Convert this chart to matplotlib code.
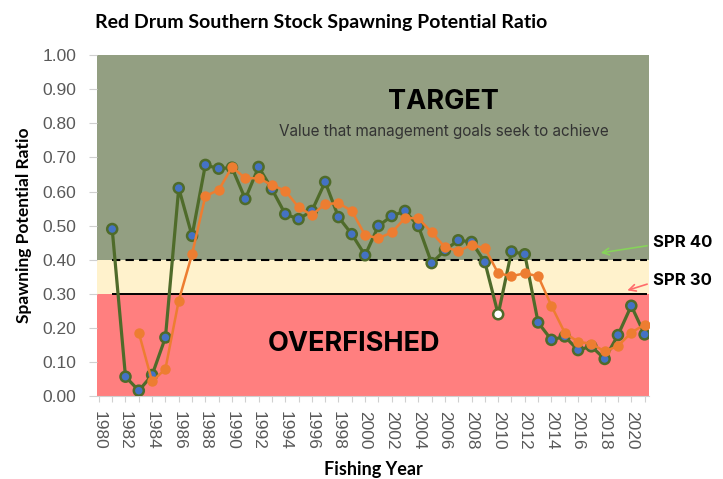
"""
Red Drum southern stock spawning potential ratio (SPR) by fishing year,
with target / threshold / overfished bands.
"""

import matplotlib

matplotlib.use("Agg")
import matplotlib.pyplot as plt

# Estimated SPR series
green_years = list(range(1981, 2022))
green_spr = [
    0.49, 0.057, 0.016, 0.062, 0.172, 0.61, 0.47, 0.678, 0.667, 0.67,
    0.578, 0.672, 0.607, 0.534, 0.519, 0.543, 0.628, 0.525, 0.475, 0.413,
    0.499, 0.528, 0.543, 0.499, 0.39, 0.428, 0.457, 0.452, 0.393, 0.24,
    0.424, 0.416, 0.216, 0.165, 0.175, 0.135, 0.146, 0.109, 0.179, 0.265,
    0.181,
]
hollow_year = 2010

orange_years = list(range(1983, 2022))
orange_spr = [
    0.186, 0.043, 0.08, 0.28, 0.416, 0.587, 0.604, 0.672, 0.639, 0.639,
    0.619, 0.602, 0.554, 0.531, 0.563, 0.566, 0.543, 0.472, 0.463, 0.48,
    0.522, 0.522, 0.48, 0.437, 0.425, 0.443, 0.434, 0.36, 0.352, 0.36,
    0.352, 0.265, 0.186, 0.159, 0.154, 0.131, 0.147, 0.186, 0.21,
]

spr_target = 0.40
spr_threshold = 0.30
ref_line_years = (1981, 2021.2)

y_ticks = [i / 10 for i in range(11)]
x_tick_labels = list(range(1980, 2021, 2))

GREEN_BAND = "#939f82"
CREAM_BAND = "#fff2cc"
RED_BAND = "#ff7f7f"
LINE_GREEN = "#4f6b2a"
MARKER_BLUE = "#4472c4"
ORANGE = "#ed7d31"
GREY = "#595959"

fig = plt.figure(figsize=(7.23, 4.79), dpi=100)
ax = fig.add_axes([0.134, 0.173, 0.764, 0.712])

# Background bands
ax.axhspan(spr_target, 1.0, color=GREEN_BAND, lw=0, zorder=0)
ax.axhspan(spr_threshold, spr_target, color=CREAM_BAND, lw=0, zorder=0)
ax.axhspan(0.0, spr_threshold, color=RED_BAND, lw=0, zorder=0)

# Reference lines
ax.hlines(spr_target, *ref_line_years, colors="black", linestyles=(0, (4, 2.5)), lw=1.5, zorder=2)
ax.hlines(spr_threshold, *ref_line_years, colors="black", lw=1.4, zorder=2)

# Green series (blue markers, one hollow point)
ax.plot(green_years, green_spr, "-", color=LINE_GREEN, lw=2.3, zorder=3)
faces = ["white" if y == hollow_year else MARKER_BLUE for y in green_years]
ax.scatter(green_years, green_spr, s=52, c=faces, edgecolors=LINE_GREEN, linewidths=1.8, zorder=4)

# Orange series on top
ax.plot(orange_years, orange_spr, "-o", color=ORANGE, lw=1.8, markersize=7.5,
        markeredgewidth=0, zorder=5)

ax.set_xlim(1979.85, 2021.35)
ax.set_ylim(0, 1.0)

ax.set_yticks(y_ticks)
ax.set_yticklabels([f"{v:.2f}" for v in y_ticks], fontfamily="Liberation Sans", fontsize=12.5, color=GREY)
ax.set_xticks(range(1980, 2022), minor=True)
ax.set_xticks(x_tick_labels)
ax.set_xticklabels([str(y) for y in x_tick_labels], rotation=-90, fontfamily="Liberation Sans",
                   fontsize=12.5, color=GREY)
ax.tick_params(axis="y", length=6, width=0.8, color="#d0d0d0", pad=9)
ax.tick_params(axis="x", which="both", length=4, width=0.8, color="#d0d0d0", pad=7)

for side in ["top", "right", "left"]:
    ax.spines[side].set_visible(False)
ax.spines["bottom"].set_color("#d0d0d0")

ax.set_xlabel("Fishing Year", fontfamily="Lato", fontweight="bold", fontsize=13, labelpad=8)
ax.set_ylabel("Spawning Potential Ratio", fontfamily="Lato", fontweight="bold", fontsize=12.5, labelpad=7)
fig.text(0.444, 0.952, "Red Drum Southern Stock Spawning Potential Ratio", ha="center", va="center",
         fontfamily="Lato", fontweight="bold", fontsize=14)

# Band annotations
ax.text(0.627, 0.862, "TARGET", transform=ax.transAxes, ha="center", va="center",
        fontfamily="Inter", fontweight="bold", fontsize=19.5)
ax.text(0.628, 0.776, "Value that management goals seek to achieve", transform=ax.transAxes,
        ha="center", va="center", fontfamily="Inter", fontsize=11, color="#333333")
ax.text(0.466, 0.152, "OVERFISHED", transform=ax.transAxes, ha="center", va="center",
        fontfamily="Inter", fontweight="bold", fontsize=19.5)

# SPR labels with arrows, outside the plot area
ax.annotate("SPR 40", xy=(2017.7, 0.42), xytext=(2021.6, 0.45), textcoords="data",
            ha="left", va="center", fontfamily="Inter", fontweight="bold", fontsize=12,
            annotation_clip=False,
            arrowprops=dict(arrowstyle="->", color="#86d35a", lw=1.2,
                            shrinkA=2, shrinkB=0, relpos=(0, 0.35)))
ax.annotate("SPR 30", xy=(2019.7, 0.31), xytext=(2021.6, 0.34), textcoords="data",
            ha="left", va="center", fontfamily="Inter", fontweight="bold", fontsize=12,
            annotation_clip=False,
            arrowprops=dict(arrowstyle="->", color="#ff6b6b", lw=1.2,
                            shrinkA=2, shrinkB=0, relpos=(0, 0.35)))

fig.savefig("out.png", dpi=100)
plt.close(fig)
